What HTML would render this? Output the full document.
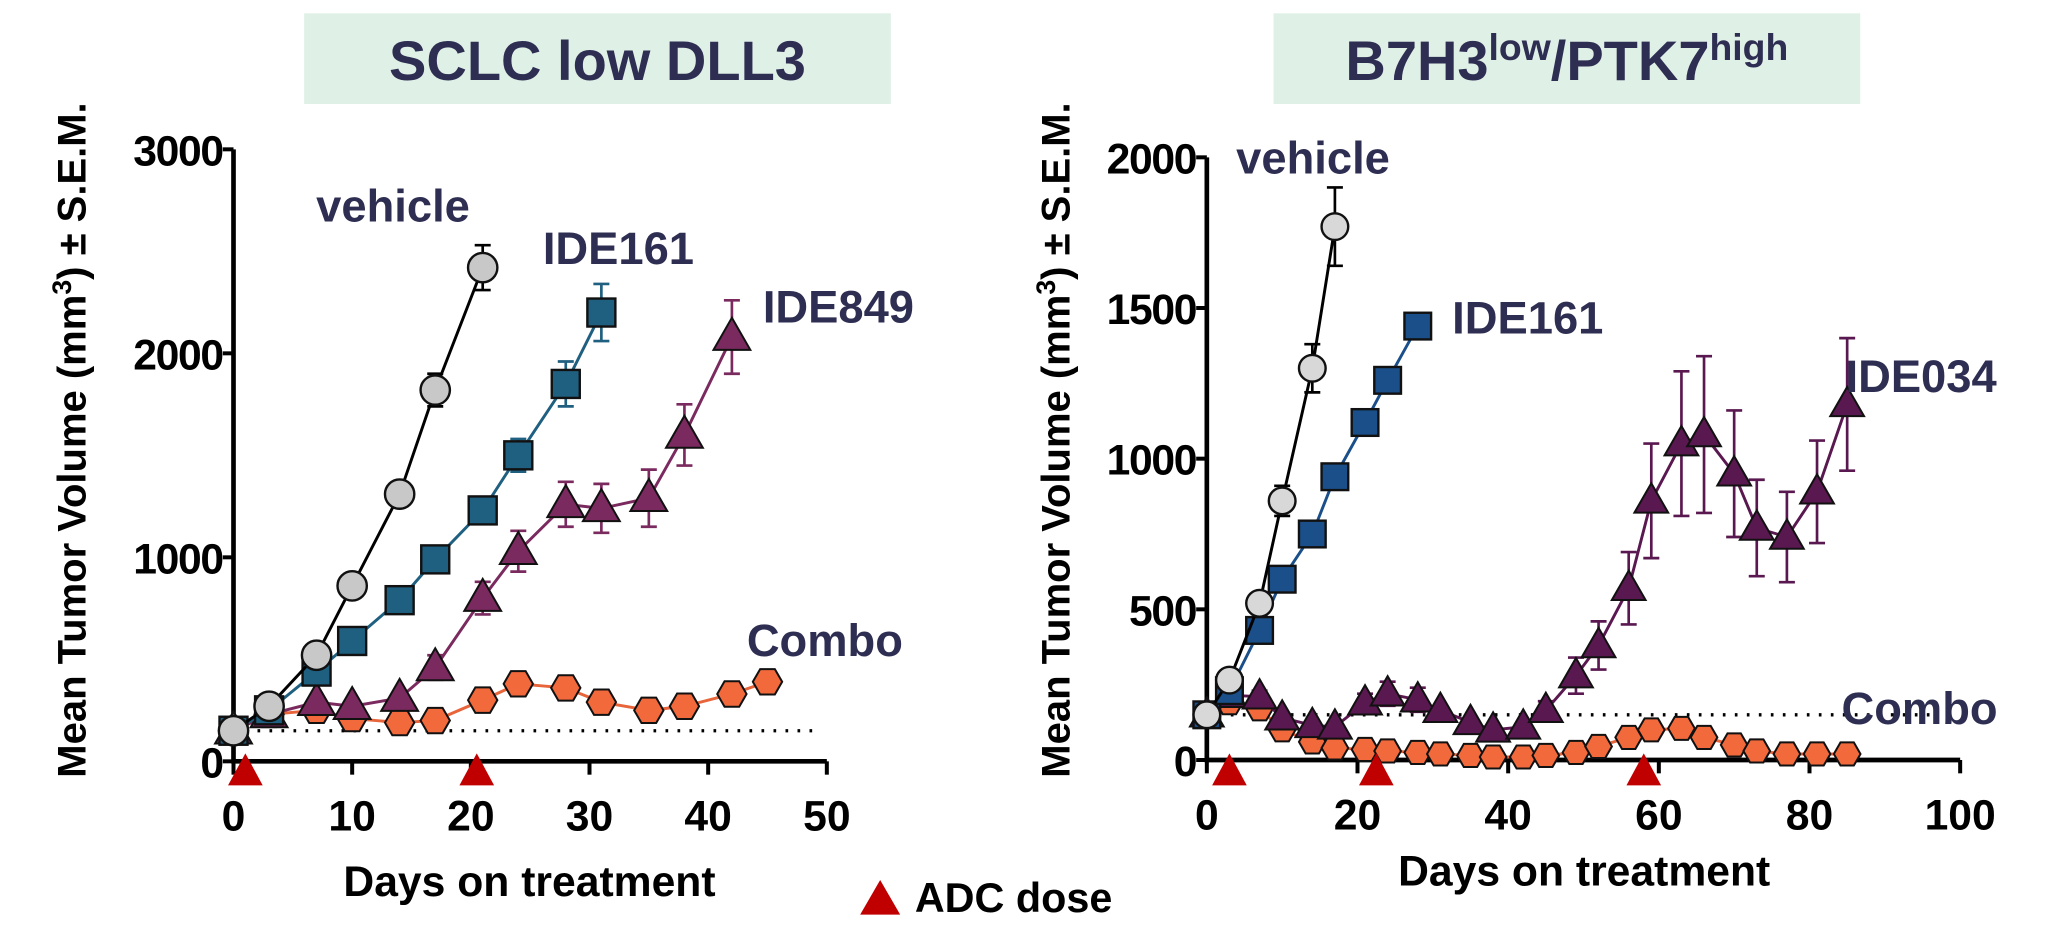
<!DOCTYPE html>
<html><head><meta charset="utf-8"><style>
html,body{margin:0;padding:0;background:#fff;}
svg{display:block;font-family:"Liberation Sans",sans-serif;}
</style></head><body>
<svg id="fig" width="2059" height="940" viewBox="0 0 1544 705">
<g>
<rect x="228" y="10" width="440" height="68" fill="#dff0e6"/>
<text x="448" y="60" text-anchor="middle" font-size="42" font-weight="bold" fill="#2e2d52">SCLC low DLL3</text>
<text transform="translate(64,330) rotate(-90)" text-anchor="middle" font-size="30" font-weight="bold" fill="#000">Mean Tumor Volume (mm<tspan dy="-11" font-size="20">3</tspan><tspan dy="11">) ± S.E.M.</tspan></text>
<text x="397" y="672" text-anchor="middle" font-size="32" font-weight="bold">Days on treatment</text>
<g id="L"></g>
</g>
<g>
<rect x="955" y="10" width="440" height="68" fill="#dff0e6"/>
<text x="1175" y="60" text-anchor="middle" font-size="42" font-weight="bold" fill="#2e2d52">B7H3<tspan dy="-15" font-size="28">low</tspan><tspan dy="15">/PTK7</tspan><tspan dy="-15" font-size="28">high</tspan></text>
<text transform="translate(802,330) rotate(-90)" text-anchor="middle" font-size="30" font-weight="bold" fill="#000">Mean Tumor Volume (mm<tspan dy="-11" font-size="20">3</tspan><tspan dy="11">) ± S.E.M.</tspan></text>
<text x="1188" y="664" text-anchor="middle" font-size="32" font-weight="bold">Days on treatment</text>
<g id="R"></g>
</g>
<g>
<polygon points="645,686 675,686 660,660" fill="#c00000"/>
<text x="686" y="684" font-size="31" font-weight="bold">ADC dose</text>
</g>
</svg>
<script>
const NS="http://www.w3.org/2000/svg";
// Left chart data
const L_xTicks=[0,10,20,30,40,50];
const L_yTicks=[0,1000,2000,3000];
const L_vehDays=[0,3,7,10,14,17,21];
const L_vehVals=[150,270,520,860,1310,1820,2420];
const L_vehErr=[0,0,0,0,50,80,110];
const L_161Days=[0,3,7,10,14,17,21,24,28,31];
const L_161Vals=[150,250,440,590,790,990,1230,1500,1850,2200];
const L_161Err=[0,0,0,0,0,0,50,80,110,140];
const L_849Days=[0,3,7,10,14,17,21,24,28,31,35,38,42];
const L_849Vals=[150,230,290,270,310,460,800,1030,1260,1240,1290,1600,2080];
const L_849Err=[0,0,0,0,0,60,80,100,110,120,140,150,180];
const L_comboDays=[0,3,7,10,14,17,21,24,28,31,35,38,42,45];
const L_comboVals=[150,230,250,210,190,200,300,380,360,290,250,270,330,390];
const L_doseDays=[1,20.5];
const L_baseline=150;
// Right chart data
const R_xTicks=[0,20,40,60,80,100];
const R_yTicks=[0,500,1000,1500,2000];
const R_vehDays=[0,3,7,10,14,17];
const R_vehVals=[150,265,520,860,1300,1770];
const R_vehErr=[0,0,0,50,80,130];
const R_161Days=[0,3,7,10,14,17,21,24,28];
const R_161Vals=[150,230,430,600,750,940,1120,1260,1440];
const R_161Err=[0,0,0,0,20,30,40,40,40];
const R_034Days=[0,3,7,10,14,17,21,24,28,31,35,38,42,45,49,52,56,59,63,66,70,73,77,81,85];
const R_034Vals=[150,215,210,140,115,110,190,220,200,165,125,100,110,165,280,380,570,860,1050,1080,950,770,740,890,1180];
const R_034Err=[0,0,20,0,0,0,30,40,40,0,0,0,0,30,60,80,120,190,240,260,210,160,150,170,220];
const R_comboDays=[0,3,7,10,14,17,21,24,28,31,35,38,42,45,49,52,56,59,63,66,70,73,77,81,85];
const R_comboVals=[150,190,170,100,60,40,35,30,25,20,15,10,10,15,25,45,75,100,105,75,50,30,20,20,20];
const R_doseDays=[3,22.5,58];
const R_baseline=150;

function el(tag,attrs,parent){const e=document.createElementNS(NS,tag);for(const k in attrs)e.setAttribute(k,attrs[k]);parent.appendChild(e);return e;}
function marker(g,shape,cx,cy,fill,s){
  let m;
  if(shape==="circle")m=el("circle",{cx:cx,cy:cy,r:s,fill:fill,stroke:"#111","stroke-width":1.8},g);
  else if(shape==="square")m=el("rect",{x:cx-s,y:cy-s,width:2*s,height:2*s,fill:fill,stroke:"#111","stroke-width":1.8},g);
  else if(shape==="tri")m=el("polygon",{points:`${cx-s*1.15},${cy+s*0.8} ${cx+s*1.15},${cy+s*0.8} ${cx},${cy-s*1.2}`,fill:fill,stroke:"#111","stroke-width":1.5},g);
  else{let p=[];for(let i=0;i<6;i++){const a=Math.PI/3*i;p.push((cx+s*Math.cos(a))+","+(cy+s*Math.sin(a)));}m=el("polygon",{points:p.join(" "),fill:fill,stroke:"#111","stroke-width":1.5},g);}
  
  
}
function series(g,name,X,Y,days,vals,errs,line,fill,shape,s){
  const sg=el("g",{},g);
  
  
  const pl=el("polyline",{points:days.map((d,i)=>X(d)+","+Y(vals[i])).join(" "),fill:"none",stroke:line,"stroke-width":2.2},sg);
  
  
  if(errs)days.forEach((d,i)=>{if(!errs[i])return;const x=X(d),y1=Y(vals[i]+errs[i]),y2=Y(vals[i]-errs[i]);
    const eb=el("path",{d:`M${x},${y1}V${y2}M${x-6},${y1}H${x+6}M${x-6},${y2}H${x+6}`,stroke:line,"stroke-width":2,fill:"none"},sg);
    
    });
  days.forEach((d,i)=>marker(sg,shape,X(d),Y(vals[i]),fill,s));
}
function axes(g,X,Y,xT,yT,x0,x1,y0,y1,prefix){
  const a=el("path",{d:`M${X(x0)},${Y(y1)}V${Y(y0)}H${X(x1)}`,stroke:"#000","stroke-width":3.5,fill:"none"},g);
  
  
  yT.forEach(v=>{el("line",{x1:X(x0)-8,x2:X(x0),y1:Y(v),y2:Y(v),stroke:"#000","stroke-width":3},g);
    const t=el("text",{x:X(x0)-8,y:Y(v)+12,"text-anchor":"end","font-size":32,"font-weight":"bold","letter-spacing":-1},g);t.textContent=v;
    
    });
  xT.forEach(v=>{el("line",{x1:X(v),x2:X(v),y1:Y(y0),y2:Y(y0)+10,stroke:"#000","stroke-width":3},g);
    const t=el("text",{x:X(v),y:Y(y0)+52,"text-anchor":"middle","font-size":32,"font-weight":"bold"},g);t.textContent=v;
    
    });
}
function label(g,x,y,txt,name){const t=el("text",{x:x,y:y,"font-size":34,"font-weight":"bold",fill:"#2e2d52"},g);t.textContent=txt;
  
  }
function doses(g,X,y,days){days.forEach(d=>{const p=el("polygon",{points:`${X(d)-13},${y+14} ${X(d)+13},${y+14} ${X(d)},${y-10}`,fill:"#c00000"},g);
  
  });}
function dotted(g,X,Y,xa,xb,v){const l=el("line",{x1:X(xa),x2:X(xb),y1:Y(v),y2:Y(v),stroke:"#000","stroke-width":2.5,"stroke-dasharray":"2 7"},g);
  
  }

// Left
(function(){
  const g=document.getElementById("L");
  const X=d=>175+d*(620-175)/50, Y=v=>571-v*(571-112)/3000;
  dotted(g,X,Y,0,49.5,L_baseline);
  axes(g,X,Y,L_xTicks,L_yTicks,0,50,0,3000,"left");
  series(g,"combo-series",X,Y,L_comboDays,L_comboVals,null,"#e8643a","#f26a3c","hex",11);
  series(g,"ide849-series",X,Y,L_849Days,L_849Vals,L_849Err,"#7a2a5e","#7a2a5e","tri",12);
  series(g,"ide161-series",X,Y,L_161Days,L_161Vals,L_161Err,"#1f5f80","#1f5f80","square",10.5);
  series(g,"vehicle-series",X,Y,L_vehDays,L_vehVals,L_vehErr,"#000","#c8c8c8","circle",11);
  doses(g,X,575,L_doseDays);
  label(g,237,166,"vehicle","vehicle-label");
  label(g,407,198,"IDE161","ide161-label");
  label(g,572,242,"IDE849","ide849-label");
  label(g,560,492,"Combo","combo-label");
})();
// Right
(function(){
  const g=document.getElementById("R");
  const X=d=>905+d*(1470-905)/100, Y=v=>570-v*(570-118)/2000;
  dotted(g,X,Y,0,96,R_baseline);
  axes(g,X,Y,R_xTicks,R_yTicks,0,100,0,2000,"right");
  series(g,"combo-series",X,Y,R_comboDays,R_comboVals,null,"#e8643a","#f26a3c","hex",10);
  series(g,"ide034-series",X,Y,R_034Days,R_034Vals,R_034Err,"#5a1850","#5a1850","tri",11);
  series(g,"ide161-series",X,Y,R_161Days,R_161Vals,R_161Err,"#1a4f8a","#1a4f8a","square",10);
  series(g,"vehicle-series",X,Y,R_vehDays,R_vehVals,R_vehErr,"#000","#d8d8d8","circle",10);
  doses(g,X,575,R_doseDays);
  label(g,927,130,"vehicle","vehicle-label");
  label(g,1089,250,"IDE161","ide161-label");
  label(g,1384,294,"IDE034","ide034-label");
  label(g,1381,543,"Combo","combo-label");
})();
</script>
</body></html>
